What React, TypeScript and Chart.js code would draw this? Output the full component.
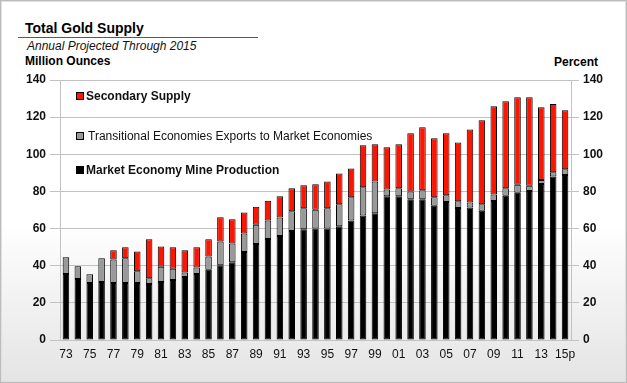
import React, { useEffect, useRef } from 'react';
import { Chart, registerables } from 'chart.js';

Chart.register(...registerables);

const categories = [
  '73', '74', '75', '76', '77', '78', '79', '80', '81', '82', '83', '84', '85', '86', '87', '88', '89', '90', '91', '92', '93', '94',
  '95', '96', '97', '98', '99', '00', '01', '02', '03', '04', '05', '06', '07', '08', '09', '10', '11', '12', '13', '14', '15p',
];

// Market Economy Mine Production (million ounces)
const mineProduction = [
  35.5, 32.8, 30.7, 31.2, 30.7, 30.7, 30.7, 30.2, 31.2, 32.3, 33.9, 35.5, 37.8, 40.3, 41.9, 47.4, 51.7, 54.4, 56.0, 58.7, 59.7, 60.1,
  60.1, 61.2, 64.4, 67.1, 68.2, 77.4, 77.4, 75.8, 75.8, 72.3, 74.3, 71.1, 71.4, 69.6, 74.9, 77.7, 79.3, 80.2, 84.0, 88.0, 88.9,
];

// Transitional Economies Exports to Market Economies
const transitionalExports = [
  9.0, 6.9, 4.7, 12.8, 12.7, 13.3, 6.3, 3.0, 8.3, 6.1, 2.5, 3.6, 7.2, 12.7, 10.1, 9.9, 10.4, 10.0, 9.9, 10.6, 11.2, 10.1,
  10.8, 11.9, 12.4, 15.1, 17.2, 3.7, 4.3, 4.2, 4.8, 4.5, 3.6, 3.6, 2.7, 3.5, 3.5, 4.0, 4.3, 2.9, 2.2, 2.3, 3.0,
];

// Secondary Supply
const secondarySupply = [
  null, null, null, null, 4.9, 5.9, 10.7, 21.0, 10.9, 11.5, 11.9, 10.8, 9.2, 13.1, 13.0, 11.4, 9.7, 10.6, 11.5, 12.4, 12.4, 13.6,
  14.5, 16.6, 15.6, 22.6, 20.0, 22.7, 23.7, 31.3, 33.9, 31.8, 33.4, 31.7, 39.3, 45.2, 47.4, 46.8, 47.1, 47.6, 39.1, 36.8, 31.8,
];

const yTicks = [0, 20, 40, 60, 80, 100, 120, 140];

const RED = '#ff1400';
const GRAY = '#999999';
const BLACK = '#000000';
const GRID = '#c2c2c2';
const FONT = "'Liberation Sans', Arial, sans-serif";

const legendItems = [
  { label: 'Secondary Supply', color: RED, bold: true, y: 96, tx: 86 },
  { label: 'Transitional Economies Exports to Market Economies', color: GRAY, bold: false, y: 136, tx: 88 },
  { label: 'Market Economy Mine Production', color: BLACK, bold: true, y: 170, tx: 86 },
];

const legendPlugin = {
  id: 'customLegend',
  afterDraw(chart: any) {
    const ctx = chart.ctx;
    ctx.save();
    legendItems.forEach((it) => {
      ctx.fillStyle = it.color;
      ctx.fillRect(77, it.y - 3, 6, 6);
      ctx.strokeStyle = '#000';
      ctx.lineWidth = 1;
      ctx.strokeRect(76.5, it.y - 3.5, 7, 7);
      ctx.fillStyle = '#111';
      ctx.font = `${it.bold ? 'bold ' : ''}12px ${FONT}`;
      ctx.textBaseline = 'middle';
      ctx.textAlign = 'left';
      ctx.fillText(it.label, it.tx, it.y + 0.5);
    });
    ctx.restore();
  },
};

const textBase: React.CSSProperties = {
  position: 'absolute',
  fontFamily: FONT,
  lineHeight: 1,
  whiteSpace: 'nowrap',
  color: '#000',
};

export default function App() {
  const canvasRef = useRef<HTMLCanvasElement | null>(null);

  useEffect(() => {
    const canvas = canvasRef.current;
    if (!canvas) return;
    const barCommon = {
      borderColor: '#000',
      borderWidth: 1,
      borderSkipped: false as const,
      barPercentage: 0.55,
      categoryPercentage: 1,
    };
    const chart = new Chart(canvas, {
      type: 'bar',
      data: {
        labels: categories,
        datasets: [
          { label: 'Market Economy Mine Production', data: mineProduction, backgroundColor: BLACK, ...barCommon },
          { label: 'Transitional Economies Exports to Market Economies', data: transitionalExports, backgroundColor: GRAY, ...barCommon },
          { label: 'Secondary Supply', data: secondarySupply, backgroundColor: RED, ...barCommon },
        ],
      },
      options: {
        responsive: false,
        animation: false,
        devicePixelRatio: 1,
        layout: { padding: { top: 80, left: 0, right: 0, bottom: 0 } },
        plugins: {
          legend: { display: false },
          tooltip: { enabled: false },
        },
        scales: {
          x: {
            stacked: true,
            offset: true,
            grid: { display: false, drawTicks: false, tickLength: 0 },
            border: { display: false },
            ticks: {
              autoSkip: false,
              maxRotation: 0,
              padding: 7,
              color: '#111',
              font: { family: FONT, size: 12 },
              callback: (_v: any, i: number) => (i % 2 === 0 ? categories[i] : ''),
            },
            afterFit: (s: any) => {
              s.height = 43;
            },
          },
          y: {
            stacked: true,
            position: 'left',
            min: 0,
            max: 140,
            afterBuildTicks: (s: any) => {
              s.ticks = yTicks.map((v) => ({ value: v }));
            },
            grid: { color: GRID, lineWidth: 1, tickLength: 10, drawTicks: true },
            border: { display: true, color: GRID, width: 1 },
            ticks: {
              padding: 4,
              color: '#111',
              font: { family: FONT, size: 12, weight: 'bold' },
            },
            afterFit: (s: any) => {
              s.width = 60;
            },
          },
          y2: {
            position: 'right',
            min: 0,
            max: 140,
            afterBuildTicks: (s: any) => {
              s.ticks = yTicks.map((v) => ({ value: v }));
            },
            grid: { drawOnChartArea: false, color: GRID, tickLength: 8, drawTicks: true },
            border: { display: true, color: GRID, width: 1 },
            ticks: {
              padding: 4,
              color: '#111',
              font: { family: FONT, size: 12, weight: 'bold' },
            },
            afterFit: (s: any) => {
              s.width = 56;
            },
          },
        },
      },
      plugins: [legendPlugin],
    });
    return () => chart.destroy();
  }, []);

  return (
    <div
      style={{
        position: 'fixed',
        left: 0,
        top: 0,
        width: 627,
        height: 383,
        overflow: 'hidden',
        background: 'linear-gradient(to bottom, #ffffff 0%, #ffffff 58%, #e4e4e4 100%)',
        boxShadow: 'inset 0 0 0 1px #bcbcbc, inset 0 0 0 2px #e0e0e0',
      }}
    >
      <div style={{ ...textBase, left: 25, top: 21, fontSize: 14, fontWeight: 'bold' }}>Total Gold Supply</div>
      <div style={{ position: 'absolute', left: 18, top: 37, width: 240, height: 1, background: '#5a5a5a' }} />
      <div style={{ ...textBase, left: 27, top: 40, fontSize: 12, fontStyle: 'italic', color: '#111' }}>
        Annual Projected Through 2015
      </div>
      <div style={{ ...textBase, left: 25, top: 55, fontSize: 12, fontWeight: 'bold' }}>Million Ounces</div>
      <div style={{ ...textBase, left: 554, top: 56, fontSize: 12, fontWeight: 'bold' }}>Percent</div>
      <canvas
        ref={canvasRef}
        width={627}
        height={383}
        style={{ position: 'absolute', left: 0, top: 0, width: 627, height: 383 }}
      />
    </div>
  );
}
